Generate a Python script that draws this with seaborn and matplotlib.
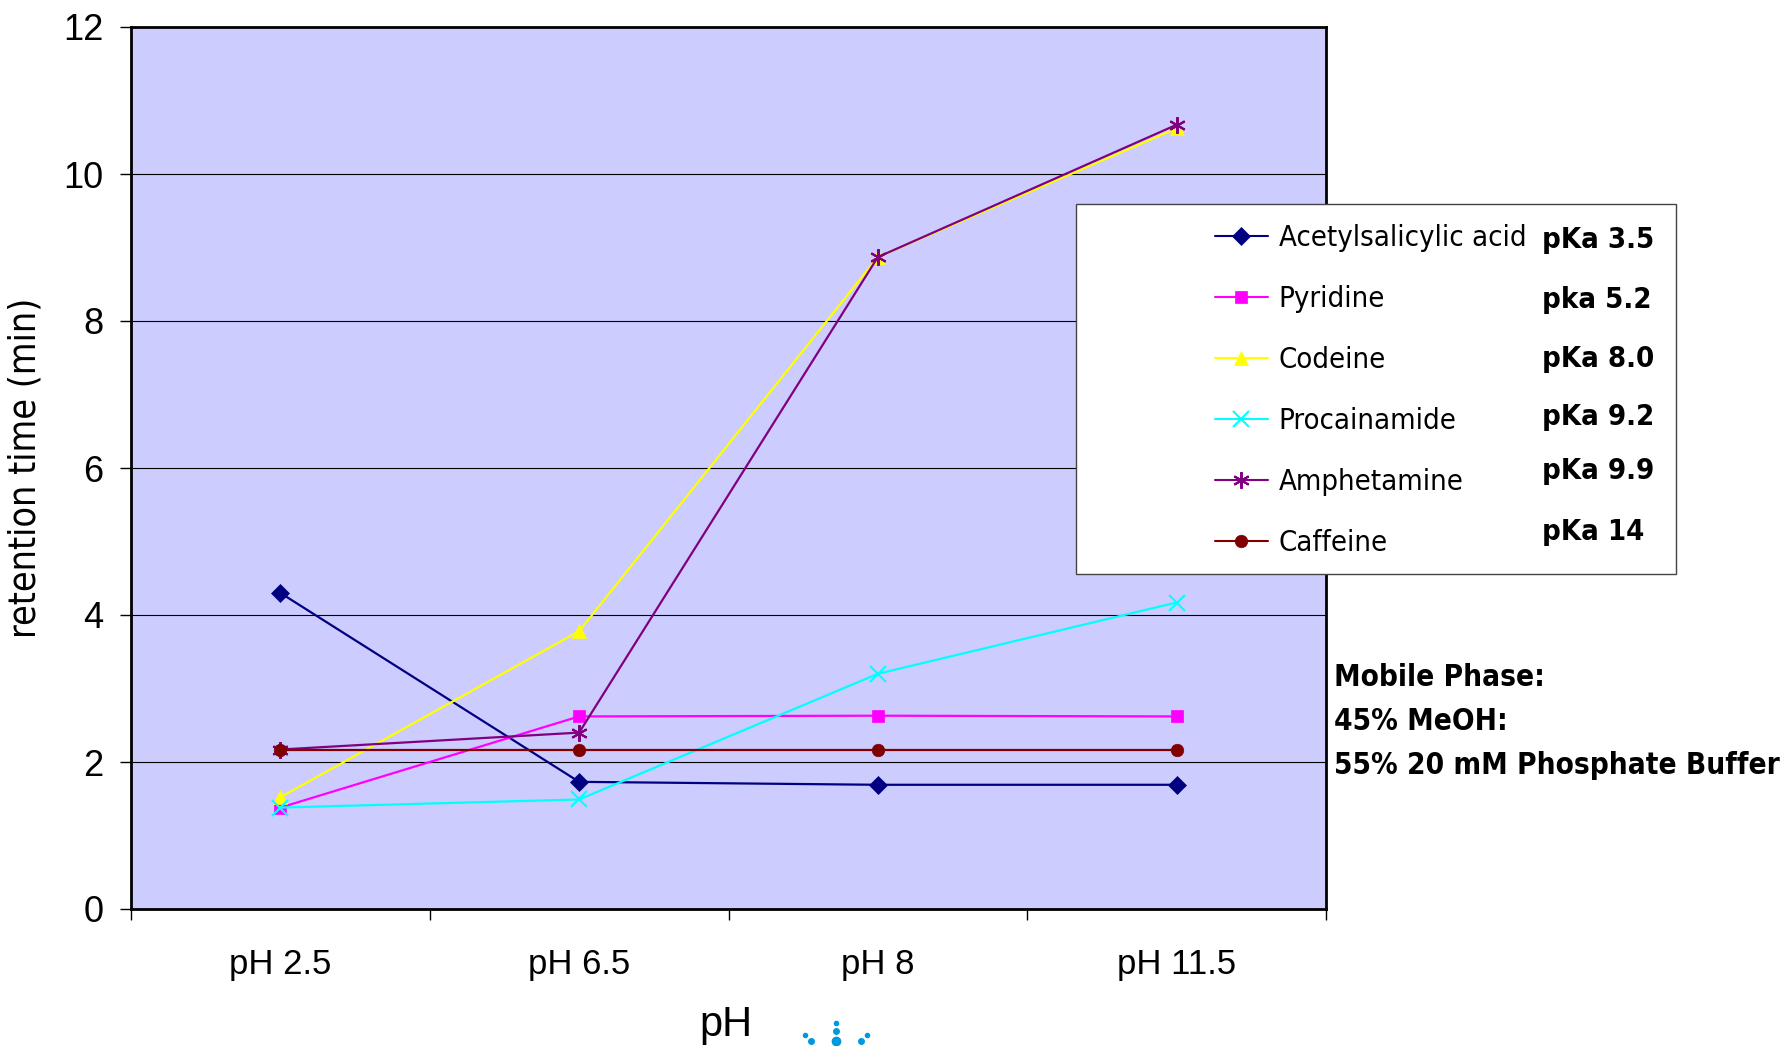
import numpy as np
import pandas as pd
import matplotlib
matplotlib.use("Agg")
import matplotlib.pyplot as plt
from matplotlib import font_manager
from matplotlib.patches import Rectangle
from matplotlib.lines import Line2D
import seaborn as sns

categories = ["pH 2.5", "pH 6.5", "pH 8", "pH 11.5"]
acetylsalicylic = [4.30, 1.73, 1.69, 1.69]
pyridine = [1.38, 2.62, 2.63, 2.62]
codeine = [1.52, 3.78, 8.87, 10.62]
procainamide = [1.38, 1.49, 3.20, 4.17]
amphetamine = [2.17, 2.40, 8.87, 10.67]
caffeine = [2.17, 2.17, 2.17, 2.17]
compounds = ["Acetylsalicylic acid", "Pyridine", "Codeine", "Procainamide", "Amphetamine", "Caffeine"]
pka_labels = ["pKa 3.5", "pka 5.2", "pKa 8.0", "pKa 9.2", "pKa 9.9", "pKa 14"]
mobile_phase = ["Mobile Phase:", "45% MeOH:", "55% 20 mM Phosphate Buffer"]
yticks = [0, 2, 4, 6, 8, 10, 12]

series = [acetylsalicylic, pyridine, codeine, procainamide, amphetamine, caffeine]
colors = ["#000080", "#FF00FF", "#FFFF00", "#00FFFF", "#800080", "#800000"]
markers = ["D", "s", "^", "x", (6, 2, 0), "o"]
msizes = [9, 9, 10, 11, 12, 9]

rows = []
for name, vals in zip(compounds, series):
    for i, v in enumerate(vals):
        rows.append({"compound": name, "xpos": i, "rt": v})
df = pd.DataFrame(rows)

sns.set_theme(style="white")
plt.rcParams['font.family'] = ['Liberation Sans', 'DejaVu Sans']
for k in ("text.color", "axes.labelcolor", "xtick.color", "ytick.color"):
    plt.rcParams[k] = "black"

# look for a condensed face among installed fonts
cond = [f for f in font_manager.fontManager.ttflist
        if ("Narrow" in f.name or "Condensed" in f.name or "condensed" in str(f.stretch))]
cond_reg = [f for f in cond if f.weight in (400, "normal", "regular") and f.style == "normal"]
cond_bold = [f for f in cond if f.weight in (700, "bold") and f.style == "normal"]
if cond_reg:
    narrow_reg = lambda size: font_manager.FontProperties(fname=cond_reg[0].fname, size=size)
else:
    narrow_reg = lambda size: font_manager.FontProperties(family="Liberation Sans", size=size * 0.87)
if cond_bold:
    narrow_bold = lambda size: font_manager.FontProperties(fname=cond_bold[0].fname, size=size)
else:
    narrow_bold = lambda size: font_manager.FontProperties(family="Liberation Sans", weight="bold",
                                                           size=size * 0.86)

fig = plt.figure(figsize=(17.85, 10.46), dpi=100)
ax = fig.add_axes([131/1785, 1-909/1046, (1326-131)/1785, (909-27)/1046])
ax.set_facecolor("#CCCCFF")

for name, c, m, ms in zip(compounds, colors, markers, msizes):
    sub = df[df.compound == name]
    sns.lineplot(data=sub, x="xpos", y="rt", color=c, marker=m, markersize=ms,
                 markeredgecolor=c, markeredgewidth=1.5 if m in ("x", (6, 2, 0)) else 0.5,
                 lw=1.6, ax=ax, label=name, legend=False, zorder=3)

ax.set_xlim(-0.5, len(categories) - 0.5)
ax.set_ylim(0, 12)
ax.set_yticks(yticks)
ax.set_yticklabels([str(t) for t in yticks], fontsize=26)
ax.yaxis.grid(True, color="black", lw=0.8)
ax.xaxis.grid(False)
ax.set_xticks(np.arange(-0.5, len(categories), 1.0))
ax.set_xticklabels([])
ax.set_xticks(np.arange(len(categories)), minor=True)
ax.set_xticklabels(categories, minor=True, fontsize=25)
ax.tick_params(axis="x", which="major", direction="out", length=8, width=1, color="black", bottom=True)
ax.tick_params(axis="x", which="minor", length=0, pad=28)
ax.tick_params(axis="y", direction="out", length=8, width=1, color="black", left=True, pad=12)
for s in ax.spines.values():
    s.set_color("black")
    s.set_linewidth(2)
ax.set_xlabel("")
ax.set_ylabel("retention time (min)", fontproperties=narrow_reg(27), labelpad=14)
fig.text(726/1785, 1-1025/1046, "pH", ha="center", va="center", fontsize=30)

# legend box
fig.patches.append(Rectangle((1076/1785, 1-574/1046), 600/1785, 370/1046,
                             transform=fig.transFigure, facecolor="white",
                             edgecolor="#444444", lw=1, zorder=5))
handles = [Line2D([], [], color=c, marker=m, markersize=ms, markeredgecolor=c,
                  markeredgewidth=1.5 if m in ("x", (6, 2, 0)) else 0.5, lw=1.5)
           for c, m, ms in zip(colors, markers, msizes)]
leg = fig.legend(handles, compounds, loc="upper left",
                 bbox_to_anchor=(1215/1785, 1-224/1046), frameon=False,
                 prop=narrow_reg(21), handlelength=1.8,
                 handletextpad=0.38, labelspacing=1.13, borderpad=0, borderaxespad=0)
leg.set_zorder(6)
for t in leg.get_texts():
    t.set_color("black")

pka_y = [240, 300, 359, 417, 471, 532]
for lab, yy in zip(pka_labels, pka_y):
    fig.text(1542/1785, 1-yy/1046, lab, ha="left", va="center",
             fontproperties=narrow_bold(21), zorder=7)

mp_y = [677, 722, 766]
for lab, yy in zip(mobile_phase, mp_y):
    fig.text(1334/1785, 1-yy/1046, lab, ha="left", va="center",
             fontproperties=narrow_bold(21.3))

# partial logo dots at bottom
dots_x = [836, 836, 836, 811, 805, 861, 867]
dots_y = [1041, 1031, 1023, 1041, 1035, 1041, 1035]
dots_ms = [6, 4, 3, 4, 3, 4, 3]
for dx, dy, dm in zip(dots_x, dots_y, dots_ms):
    fig.add_artist(Line2D([dx/1785], [1-dy/1046], marker="o", markersize=dm, linestyle="none",
                          color="#0099DD", transform=fig.transFigure))

fig.savefig("out.png", dpi=100, facecolor="white")
